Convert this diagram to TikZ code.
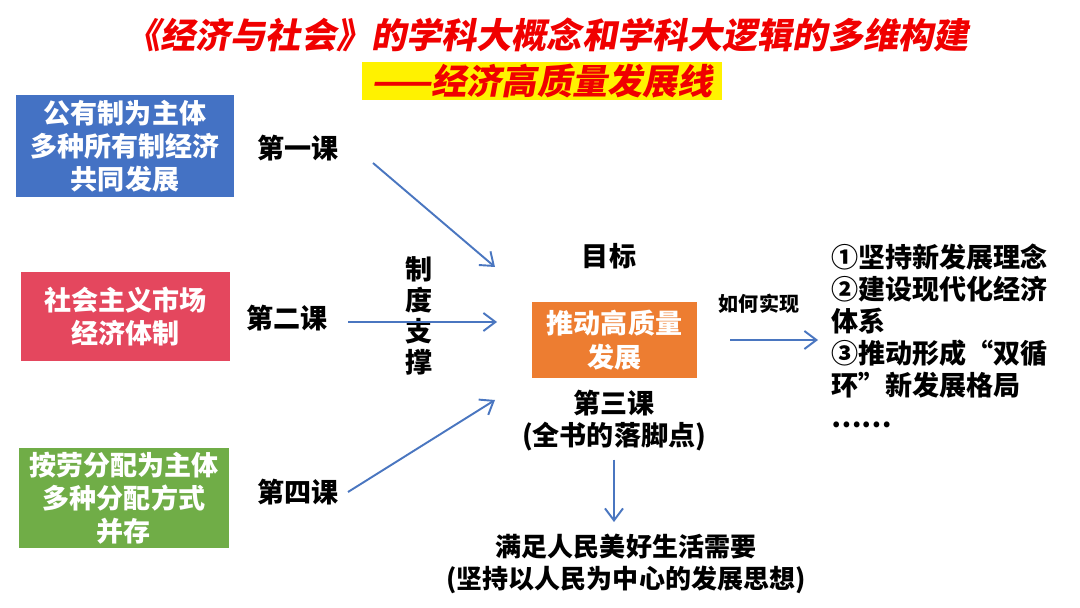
\documentclass[tikz,border=0pt]{standalone}
\usepackage{fontspec}
\setmainfont{Noto Sans CJK SC}
\newfontfamily\titlefont[FakeSlant=0.18]{Noto Sans CJK SC}
\usetikzlibrary{arrows.meta,positioning}

\definecolor{boxblue}{HTML}{4472C4}
\definecolor{boxred}{HTML}{E4475E}
\definecolor{boxgreen}{HTML}{70AD47}
\definecolor{boxorange}{HTML}{ED7D31}
\definecolor{linkblue}{HTML}{4A76C0}
\definecolor{titlered}{HTML}{F00000}

\begin{document}
\begin{tikzpicture}[
  x=0.02cm, y=-0.02cm,
  font=\bfseries\fontsize{15.4pt}{18.8pt}\selectfont,
  box/.style={rectangle, text=white, align=center, inner sep=2pt},
  srcbox/.style={box, minimum width=4.3cm, minimum height=1.9cm},
  lesson/.style={align=center, inner sep=1pt},
  headline/.style={text=titlered, font=\titlefont\bfseries\fontsize{20pt}{24pt}\selectfont, inner sep=0pt},
  arrow/.style={-{Straight Barb[length=2.4mm, width=3.6mm]}, linkblue, line width=1.1pt},
]
\useasboundingbox (0,0) rectangle (1080,608);

% ===== Title =====
\node[headline] (title) at (547,35) {《经济与社会》的学科大概念和学科大逻辑的多维构建};
\node[headline, fill=yellow, minimum width=7.2cm, minimum height=0.76cm] (subtitle) at (542,81) {——经济高质量发展线};

% ===== Three source boxes on the left =====
\node[srcbox, fill=boxblue, minimum width=4.36cm, minimum height=2.04cm] (own) at (125,146)
  {公有制为主体\\多种所有制经济\\共同发展};
\node[srcbox, fill=boxred, minimum width=4.18cm, minimum height=1.78cm] (market) at (125.5,316.5)
  {社会主义市场\\经济体制};
\node[srcbox, fill=boxgreen, minimum width=4.2cm, minimum height=2.0cm] (dist) at (124,498)
  {按劳分配为主体\\多种分配方式\\并存};

\node[lesson] (l1) at (298,148) {第一课};
\node[lesson] (l2) at (287,318) {第二课};
\node[lesson] (l4) at (298,492) {第四课};
\node[lesson, font=\bfseries\fontsize{15.4pt}{17.6pt}\selectfont] (support) at (419,316) {制\\度\\支\\撑};

% ===== Goal in the middle =====
\node[box, fill=boxorange, minimum width=3.3cm, minimum height=1.52cm,
      font=\bfseries\fontsize{15.4pt}{19.4pt}\selectfont] (goal) at (614.5,340) {推动高质量\\发展};
\node[lesson] (aim) at (609,256) {目标};
\node[lesson, font=\bfseries\fontsize{15.4pt}{18.2pt}\selectfont] (l3) at (614,421) {第三课\\(全书的落脚点)};

\coordinate (s1) at (373,163);
\coordinate (t1) at (495,267);
\coordinate (s2) at (348,322);
\coordinate (t2) at (497,322);
\coordinate (s4) at (348,492);
\coordinate (t4) at (495,400);

\draw[arrow] (s1) -- (t1);
\draw[arrow] (s2) -- (t2);
\draw[arrow] (s4) -- (t4);

% ===== How: the right-hand list =====
\node[lesson, anchor=north west, align=left, inner sep=0pt,
      font=\bfseries\fontsize{15.4pt}{18.2pt}\selectfont] (how) at (831,244)
  {①坚持新发展理念\\②建设现代化经济\\体系\\③推动形成“双循\\环”新发展格局\\……};
\node[lesson, font=\bfseries\fontsize{11.4pt}{13pt}\selectfont] (howlbl) at (759,304) {如何实现};
\draw[arrow, shorten <=0.66cm, shorten >=0.26cm] (goal.east) -- (goal.east -| how.west);

% ===== Result at the bottom =====
\node[lesson, font=\bfseries\fontsize{14.8pt}{18.2pt}\selectfont] (need) at (626,564)
  {满足人民美好生活需要\\(坚持以人民为中心的发展思想)};
\draw[arrow, shorten <=0.12cm, shorten >=0.2cm] (l3.south) -- (l3.south |- need.north);

\end{tikzpicture}
\end{document}
